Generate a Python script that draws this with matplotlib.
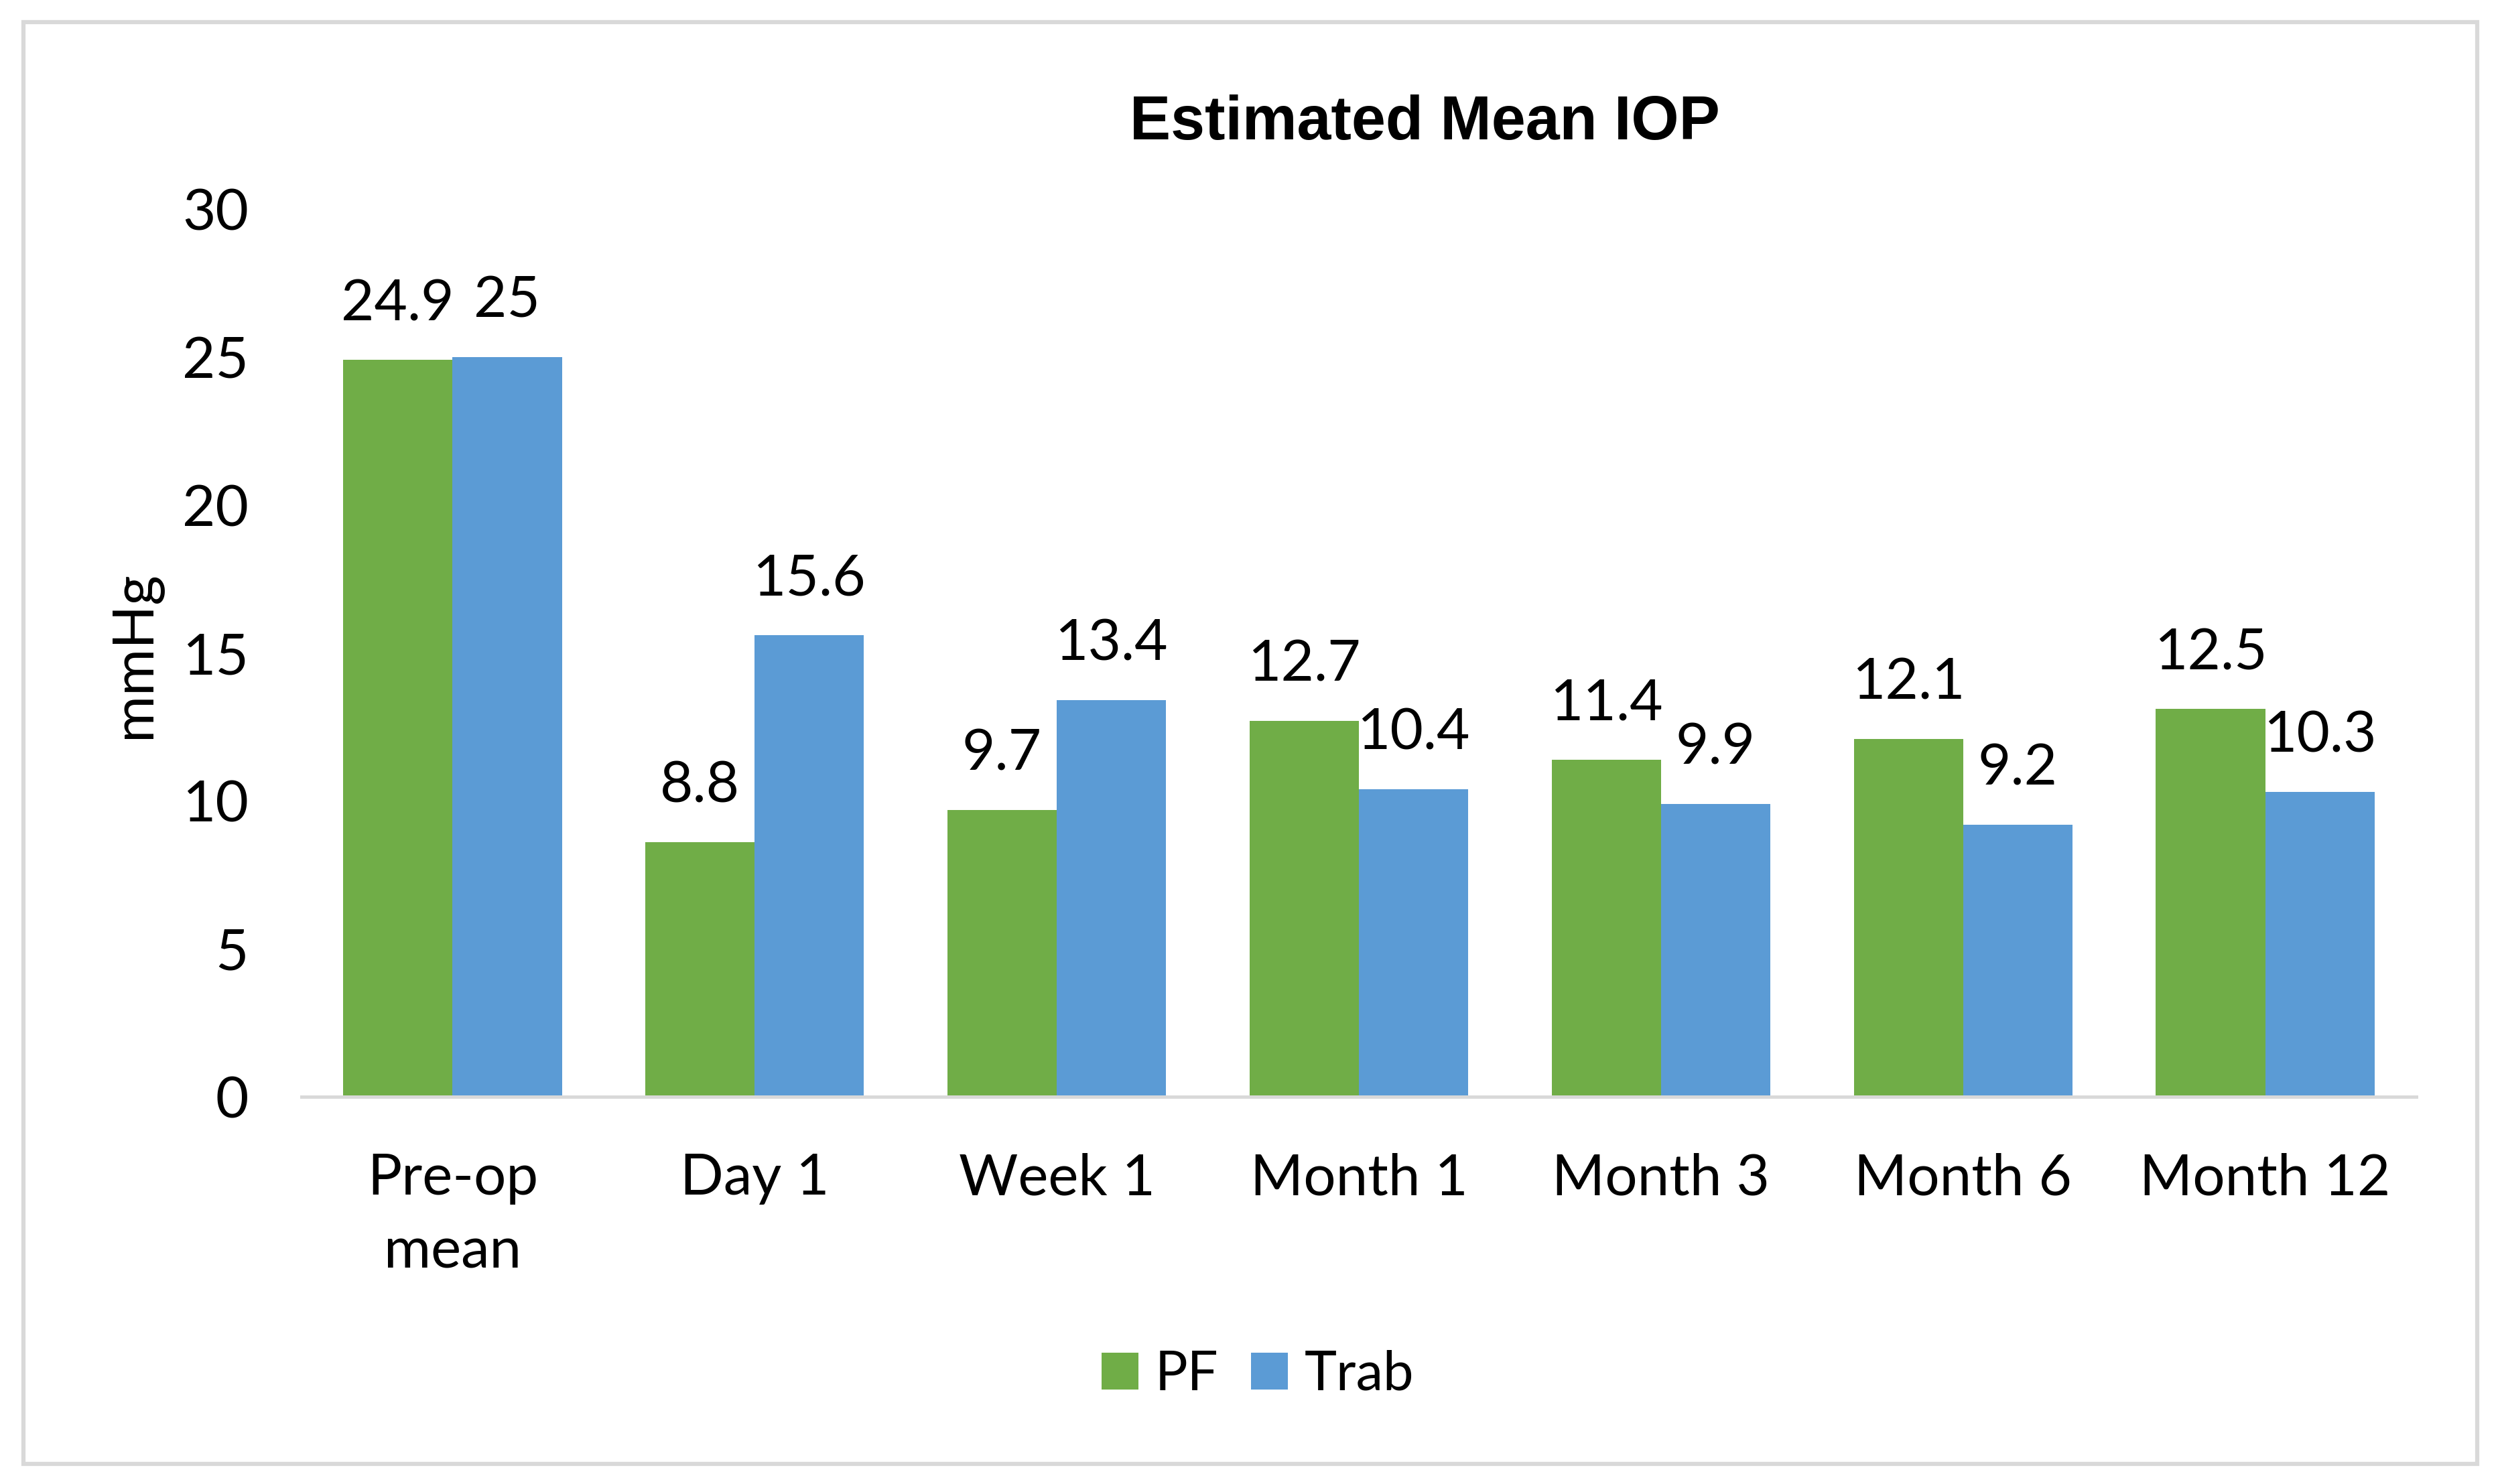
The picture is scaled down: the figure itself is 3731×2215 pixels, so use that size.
import matplotlib.pyplot as plt
import numpy as np

categories = ['Pre-op\nmean', 'Day 1', 'Week 1', 'Month 1', 'Month 3', 'Month 6', 'Month 12']
pf = [24.9, 8.6, 9.7, 12.7, 11.4, 12.1, 13.1]
trab = [25.0, 15.6, 13.4, 10.4, 9.9, 9.2, 10.3]
# label text as printed on the chart
pf_labels = ['24.9', '8.8', '9.7', '12.7', '11.4', '12.1', '12.5']
trab_labels = ['25', '15.6', '13.4', '10.4', '9.9', '9.2', '10.3']
yticks = [0, 5, 10, 15, 20, 25, 30]

green = '#70AD47'
blue = '#5B9BD5'
grey = '#D9D9D9'
font = 'Lato'
fs = 20.5

fig = plt.figure(figsize=(3731 / 300, 2215 / 300), dpi=300)
ax = fig.add_axes([0.1206, 0.261, 0.8459, 0.598])

x = np.arange(len(categories))
w = 0.362
b1 = ax.bar(x - w / 2, pf, w, color=green, label='PF')
b2 = ax.bar(x + w / 2, trab, w, color=blue, label='Trab')

# data labels above each bar
for bars, labs in [(b1, pf_labels), (b2, trab_labels)]:
    for r, t in zip(bars, labs):
        ax.annotate(t, (r.get_x() + r.get_width() / 2, r.get_height()),
                    xytext=(0, 20), textcoords='offset points',
                    ha='center', va='center', fontsize=fs, family=font)

ax.set_xlim(-0.5, len(categories) - 0.5)
ax.set_ylim(0, 30)
ax.set_yticks(yticks)
ax.set_yticklabels([str(v) for v in yticks], fontsize=fs, family=font)
ax.set_xticks(x)
ax.set_xticklabels(categories, fontsize=fs, family=font, linespacing=1.5)
ax.tick_params(axis='both', length=0)
ax.tick_params(axis='y', pad=19)
ax.tick_params(axis='x', pad=20)
for s in ['top', 'right', 'left']:
    ax.spines[s].set_visible(False)
ax.spines['bottom'].set_color(grey)
ax.spines['bottom'].set_linewidth(1.2)

fig.text(0.054, 0.559, 'mmHg', rotation=90, ha='center', va='center',
         fontsize=fs, family=font)
fig.text(0.570, 0.917, 'Estimated Mean IOP', ha='center', va='center',
         fontsize=22, fontweight='bold', family='Liberation Sans')

leg = fig.legend(loc='center', bbox_to_anchor=(0.503, 0.0736), ncol=2,
                 frameon=False, prop={'family': font, 'size': 19.5},
                 handlelength=0.68, handleheight=0.68, handletextpad=0.3,
                 columnspacing=0.6)

# outer chart border
fig.patches.append(plt.Rectangle((0.0095, 0.0135), 0.9815, 0.9715,
                                 transform=fig.transFigure, fill=False,
                                 edgecolor=grey, linewidth=1.5))

fig.savefig('out.png', dpi=300, facecolor='white')
